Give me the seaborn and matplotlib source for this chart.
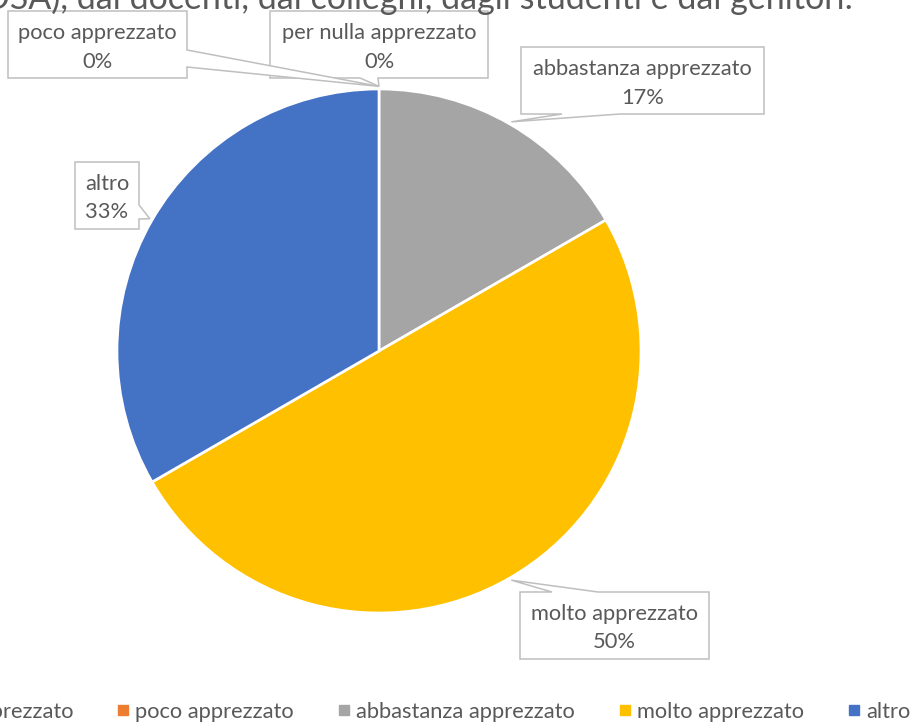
import matplotlib
matplotlib.use("Agg")
import matplotlib.pyplot as plt
import seaborn as sns
import numpy as np
from matplotlib.patches import Polygon
from matplotlib.lines import Line2D

# ---------------- data ----------------
categories = ["per nulla apprezzato", "poco apprezzato", "abbastanza apprezzato",
              "molto apprezzato", "altro"]
values = [0, 0, 1, 3, 2]
colors = ["#5B9BD5", "#ED7D31", "#A5A5A5", "#FFC000", "#4472C4"]
title_text = "(DSA), dai docenti, dai colleghi, dagli studenti e dai genitori."

# ---------------- style ----------------
sns.set_theme(style="white")
FONT = "Lato"
plt.rcParams['font.family'] = [FONT, 'DejaVu Sans']
TEXT = "#595959"
EDGE = "#BFBFBF"

W, H = 913, 722
fig = plt.figure(figsize=(W / 100, H / 100), dpi=100)
ax = fig.add_axes([0, 0, 1, 1])

# scale font so widths resemble the original (Calibri-like) rendering
renderer = fig.canvas.get_renderer()
probe = fig.text(0, 0, "poco apprezzato", fontsize=17.28)
wprobe = probe.get_window_extent(renderer).width
probe.remove()
k = 159.0 / wprobe
fs_label = 17.28 * k
fs_title = 17.28 * 14 / 9 * k
fpx = fs_label / 0.72


def Y(py):
    return H - py


cx, cy, R = 379, 351, 262
wedges, _ = ax.pie(values, colors=colors, startangle=90, counterclock=False,
                   center=(cx, Y(cy)), radius=R,
                   wedgeprops=dict(edgecolor="white", linewidth=1.9))
ax.set_xlim(0, W)
ax.set_ylim(0, H)
ax.set_aspect('equal')
ax.axis('off')

# callout layout (pixel coords from top-left): box (l, t, r, b), tail side, tail base
layout = {
    "poco apprezzato": ((8, 11, 187, 78), "right", (50, 67)),
    "per nulla apprezzato": ((270, 11, 488, 78), "bottom", (360, 378)),
    "abbastanza apprezzato": ((521, 47, 764, 114), "bottom", (562, 620)),
    "altro": ((75, 162, 139, 229), "right", (205, 219)),
    "molto apprezzato": ((520, 592, 709, 659), "top", (552, 598)),
}

total = sum(values)
for wdg, cat, v in zip(wedges, categories, values):
    mid = np.deg2rad((wdg.theta1 + wdg.theta2) / 2)
    rr = R * 1.01
    tipx = cx + rr * np.cos(mid)
    tipy = cy - rr * np.sin(mid)
    (l, t, r, b), side, (a1, a2) = layout[cat]
    pts = [(l, t)]
    if side == "top":
        pts += [(a1, t), (tipx, tipy), (a2, t)]
    pts += [(r, t)]
    if side == "right":
        pts += [(r, a1), (tipx, tipy), (r, a2)]
    pts += [(r, b)]
    if side == "bottom":
        pts += [(a2, b), (tipx, tipy), (a1, b)]
    pts += [(l, b)]
    poly = Polygon([(x, Y(y)) for x, y in pts], closed=True, facecolor="white",
                   edgecolor=EDGE, linewidth=1.1, zorder=4)
    ax.add_patch(poly)
    xc = (l + r) / 2
    ax.text(xc, Y(t + 28), cat, ha="center", va="baseline", fontsize=fs_label,
            color=TEXT, zorder=5)
    ax.text(xc, Y(t + 56.5), f"{v / total:.0%}", ha="center", va="baseline",
            fontsize=fs_label, color=TEXT, zorder=5)

# title (partially cropped at top/left as in the original)
fig.text(853 / W, Y(9) / H, title_text, ha="right", va="baseline",
         fontsize=fs_title, color=TEXT)

# legend
handles = [Line2D([], [], marker="s", linestyle="none", markersize=7.2,
                  markerfacecolor=c, markeredgecolor=c) for c in colors]
fig.legend(handles, categories, loc="lower right", bbox_to_anchor=(910 / W, 0.0),
           ncol=5, frameon=False, fontsize=fs_label, handlelength=14 / fpx,
           handletextpad=5 / fpx, columnspacing=43 / fpx, borderpad=0,
           borderaxespad=0, labelcolor=TEXT)

fig.savefig("out.png", dpi=100, facecolor="white")
